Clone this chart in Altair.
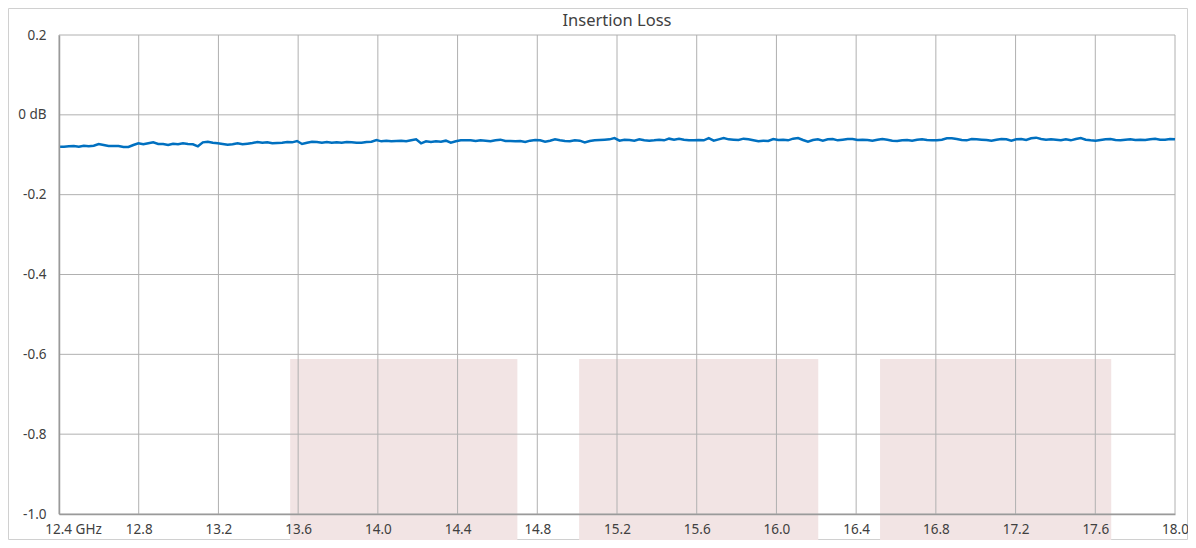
import altair as alt
import numpy as np
import pandas as pd

# ---- data ----
x_ticks = [12.4, 12.8, 13.2, 13.6, 14.0, 14.4, 14.8, 15.2, 15.6, 16.0, 16.4, 16.8, 17.2, 17.6, 18.0]
y_ticks = [0.2, 0.0, -0.2, -0.4, -0.6, -0.8, -1.0]

band_start = [13.56, 15.01, 16.52]
band_end = [14.70, 16.21, 17.68]
band_top = [-0.612, -0.612, -0.612]
band_bottom = [-1.065, -1.065, -1.065]

loss_db = [
    -0.0798, -0.0798, -0.0789, -0.0781, -0.0798, -0.0773, -0.0789, -0.0773, -0.0731, -0.0756,
    -0.0781, -0.0781, -0.0781, -0.0806, -0.0806, -0.0756, -0.0714, -0.0739, -0.0714, -0.0689,
    -0.0731, -0.0731, -0.0756, -0.0723, -0.0739, -0.0714, -0.0731, -0.0739, -0.0789, -0.0689,
    -0.0672, -0.0698, -0.0714, -0.0731, -0.0748, -0.0739, -0.0714, -0.0739, -0.0723, -0.0706,
    -0.0681, -0.0698, -0.0689, -0.0714, -0.0706,
    -0.0698, -0.0681, -0.0689, -0.0656, -0.0731, -0.0698, -0.0672, -0.0681, -0.0698, -0.0681,
    -0.0698, -0.0689, -0.0698, -0.0681, -0.0689, -0.0698, -0.0698, -0.0681, -0.0672, -0.0631,
    -0.0664, -0.0647, -0.0664, -0.0656, -0.0647, -0.0664, -0.0639, -0.0614, -0.0714, -0.0664,
    -0.0681, -0.0664, -0.0672, -0.0647, -0.0698, -0.0664, -0.0639, -0.0639, -0.0639, -0.0656,
    -0.0639, -0.0647, -0.0664, -0.0639, -0.0622,
    -0.0656, -0.0656, -0.0664, -0.0656, -0.0681, -0.0647, -0.0631, -0.0639, -0.0672, -0.0647,
    -0.0614, -0.0639, -0.0656, -0.0664, -0.0639, -0.0647, -0.0689, -0.0656, -0.0639, -0.0631,
    -0.0622, -0.0614, -0.0581, -0.0647, -0.0622, -0.0631, -0.0647, -0.0614, -0.0639, -0.0647,
    -0.0639, -0.0622, -0.0639, -0.0597, -0.0622, -0.0597, -0.0622, -0.0639, -0.0639, -0.0631,
    -0.0639, -0.0581, -0.0647, -0.0614, -0.0581,
    -0.0614, -0.0622, -0.0631, -0.0597, -0.0614, -0.0639, -0.0664, -0.0647, -0.0656, -0.0606,
    -0.0631, -0.0622, -0.0639, -0.0597, -0.0581, -0.0631, -0.0672, -0.0631, -0.0614, -0.0647,
    -0.0614, -0.0606, -0.0639, -0.0622, -0.0606, -0.0606, -0.0631, -0.0622, -0.0631, -0.0647,
    -0.0622, -0.0606, -0.0622, -0.0647, -0.0656, -0.0639, -0.0631, -0.0647, -0.0622, -0.0614,
    -0.0631, -0.0639, -0.0639, -0.0622, -0.0589,
    -0.0589, -0.0606, -0.0631, -0.0639, -0.0606, -0.0614, -0.0622, -0.0631, -0.0647, -0.0622,
    -0.0606, -0.0614, -0.0647, -0.0614, -0.0606, -0.0631, -0.0589, -0.0572, -0.0606, -0.0622,
    -0.0614, -0.0622, -0.0639, -0.0614, -0.0639, -0.0606, -0.0581, -0.0622, -0.0639, -0.0647,
    -0.0631, -0.0614, -0.0606, -0.0631, -0.0639, -0.0622, -0.0614, -0.0631, -0.0622, -0.0631,
    -0.0614, -0.0597, -0.0622, -0.0622, -0.0606, -0.0614,
]
# measurement sweep: evenly spaced frequency points from 12.4 to 18.0 GHz
freq_ghz = list(np.linspace(12.4, 18.0, len(loss_db)))

title_text = "Insertion Loss"

# ---- styling ----
FONT = "Noto Sans"
TXT = "#404040"
GRID = "#b0b0b0"
SHADE = "#f2e4e4"
LINE = "#0070c0"

W, H = 1116, 479
PAD = {"left": 51, "top": 27, "right": 13, "bottom": 26}

line_df = pd.DataFrame({"f": freq_ghz, "db": loss_db})
band_df = pd.DataFrame({"s": band_start, "e": band_end, "t": band_top, "b": band_bottom})
vgrid_df = pd.DataFrame({"gx": x_ticks})
hgrid_df = pd.DataFrame({"gy": y_ticks})
title_df = pd.DataFrame({"label": [title_text]})

x_scale = alt.Scale(domain=[12.4, 18.0], nice=False, zero=False)
y_scale = alt.Scale(domain=[-1.0, 0.2], nice=False, zero=False)

x_axis = alt.Axis(
    values=x_ticks,
    title=None,
    grid=False,
    ticks=False,
    domain=True,
    domainColor="#9a9a9a",
    domainWidth=1.5,
    labelExpr="datum.value == 12.4 ? '12.4 GHz' : format(datum.value, '.1f')",
    labelOffset={"condition": {"test": "datum.value == 12.4", "value": 14}, "value": 0},
    labelFont=FONT,
    labelFontSize=13.5,
    labelColor=TXT,
    labelPadding=8,
    labelBound=False,
    labelFlush=False,
    labelOverlap=False,
    zindex=1,
)
y_axis = alt.Axis(
    values=y_ticks,
    title=None,
    grid=False,
    ticks=False,
    domain=True,
    domainColor="#9a9a9a",
    domainWidth=1.5,
    labelExpr="datum.value == 0 ? '0 dB' : replace(format(datum.value, '.1f'), '\u2212', '-')",
    labelFont=FONT,
    labelFontSize=13.5,
    labelColor=TXT,
    labelPadding=13,
    labelOverlap=False,
    zindex=1,
)


def xenc(field):
    return alt.X(f"{field}:Q", scale=x_scale, axis=x_axis)


def yenc(field):
    return alt.Y(f"{field}:Q", scale=y_scale, axis=y_axis)


frame = alt.Chart(pd.DataFrame({"k": [0]})).mark_rect(
    fill="white", stroke="#d0d0d0", strokeWidth=1
).encode(
    x=alt.value(-PAD["left"] + 0.5),
    x2=alt.value(W + PAD["right"] - 0.5),
    y=alt.value(-PAD["top"] + 0.5),
    y2=alt.value(H + PAD["bottom"] - 0.5),
)

title = alt.Chart(title_df).mark_text(
    font=FONT, fontSize=16.5, color=TXT, align="center", baseline="alphabetic"
).encode(text="label:N", x=alt.value(W / 2), y=alt.value(-9))

bands = alt.Chart(band_df).mark_rect(color=SHADE).encode(
    x=xenc("s"), x2="e:Q", y=yenc("t"), y2="b:Q"
)

vgrid = alt.Chart(vgrid_df).mark_rule(color=GRID, strokeWidth=1).encode(x=xenc("gx"))
hgrid = alt.Chart(hgrid_df).mark_rule(color=GRID, strokeWidth=1).encode(y=yenc("gy"))

line = alt.Chart(line_df).mark_line(color=LINE, strokeWidth=2.5, interpolate="linear").encode(
    x=xenc("f"), y=yenc("db")
)

chart = (
    alt.layer(frame, title, bands, vgrid, hgrid, line)
    .properties(
        width=W,
        height=H,
        autosize=alt.AutoSizeParams(type="none"),
        padding=PAD,
    )
    .configure_view(stroke=None)
    .configure(background="white")
)

chart.save("out.html", embed_options={"renderer": "svg", "actions": False})
